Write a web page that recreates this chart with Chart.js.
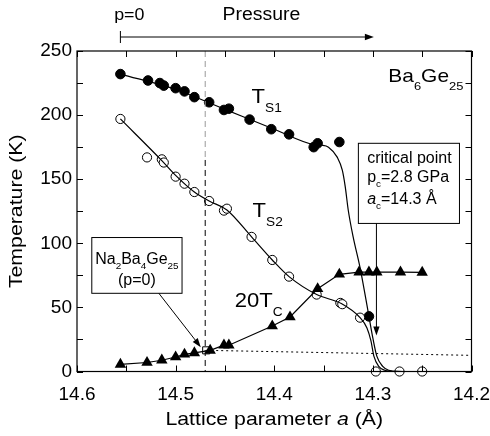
<!DOCTYPE html>
<html>
<head>
<meta charset="utf-8">
<script src="https://cdn.jsdelivr.net/npm/chart.js@4"></script>
<style>
  html, body { margin: 0; padding: 0; background: #fff; }
  #wrap { width: 490px; height: 436px; }
</style>
</head>
<body>
<div id="wrap"><canvas id="chart" width="490" height="436"></canvas></div>
<script>
// T_S1 (filled circles)
const ts1A = [14.556, 14.528, 14.516, 14.512, 14.500, 14.491, 14.481, 14.466, 14.451, 14.446, 14.425, 14.403, 14.385, 14.360, 14.356, 14.334, 14.304];
const ts1T = [232, 227, 225, 223, 221, 218.5, 214, 210, 204, 205, 196.5, 189, 185, 175, 178, 179, 43];
// T_S2 (open circles)
const ts2A = [14.556, 14.529, 14.514, 14.512, 14.500, 14.491, 14.481, 14.466, 14.451, 14.448, 14.423, 14.402, 14.385, 14.357, 14.333, 14.331, 14.313, 14.297, 14.273, 14.250];
const ts2T = [197, 167, 165.5, 163, 152, 146.5, 140, 133, 125.5, 127, 105, 87, 74, 60, 53.5, 52.5, 42, 0, 0, 0];
// 20 x Tc (triangles)
const tcA = [14.556, 14.529, 14.514, 14.500, 14.491, 14.481, 14.465, 14.451, 14.446, 14.402, 14.384, 14.356, 14.334, 14.314, 14.304, 14.296, 14.272, 14.250];
const tcT = [5.5, 7, 8.8, 11.3, 13.4, 14.5, 16.5, 20.5, 20.5, 35.5, 42.5, 64.5, 75.8, 77.5, 77.5, 77.5, 77.5, 77.3];
// guide curves through the data
const fit1A = [14.556, 14.50, 14.45, 14.40, 14.36, 14.352, 14.345, 14.336, 14.331, 14.328, 14.325, 14.320, 14.313, 14.307, 14.304, 14.300, 14.296, 14.290, 14.284, 14.270];
const fit1T = [232, 220, 204.5, 189, 177, 176.5, 175, 167, 157, 144, 126, 105, 81, 56, 43, 26, 12, 4, 1, 0];
const fit2A = [14.556, 14.514, 14.500, 14.481, 14.466, 14.448, 14.423, 14.402, 14.385, 14.357, 14.332, 14.313, 14.306, 14.302, 14.299, 14.294, 14.288, 14.280];
const fit2T = [197, 164.5, 153, 140, 133, 126, 105, 87, 74, 60, 53, 42, 34, 24, 12, 4, 1, 0];
// Na2Ba4Ge25 reference point and its dotted guide
const naA = [14.469];
const naT = [16.5];
const dotA = [14.469, 14.2];
const dotT = [16.5, 12.6];
// p = 0 line
const p0A = 14.470;

const xTicks = [14.6, 14.5, 14.4, 14.3, 14.2];
const xMinor = [14.55, 14.45, 14.35, 14.25];
const yTicks = [0, 50, 100, 150, 200, 250];
const yMinor = [25, 75, 125, 175, 225];

const pts = (a, t) => a.map((v, i) => ({ x: v, y: t[i] }));
const FONT = 'Liberation Sans, Arial, Helvetica, sans-serif';

// draws text made of parts, with subscripts and italic bits; sx stretches it sideways
function richText(ctx, parts, x, y, size, align, sx, subDy) {
  sx = sx || 1;
  subDy = subDy || 0.54;
  ctx.save();
  ctx.textBaseline = 'middle';
  ctx.fillStyle = '#000';
  let w = 0;
  parts.forEach(p => {
    const s = p.sub ? size * 0.62 : size;
    ctx.font = (p.it ? 'italic ' : '') + s + 'px ' + FONT;
    p.w = ctx.measureText(p.t).width * sx;
    p.s = s;
    w += p.w;
  });
  let cx = align === 'center' ? x - w / 2 : x;
  parts.forEach(p => {
    ctx.font = (p.it ? 'italic ' : '') + p.s + 'px ' + FONT;
    ctx.save();
    ctx.translate(cx, y + (p.sub ? size * subDy : 0));
    ctx.scale(sx, 1);
    ctx.fillText(p.t, 0, 0);
    ctx.restore();
    cx += p.w;
  });
  ctx.restore();
}

function arrow(ctx, x1, y1, x2, y2, head) {
  const ang = Math.atan2(y2 - y1, x2 - x1);
  ctx.save();
  ctx.strokeStyle = '#000';
  ctx.fillStyle = '#000';
  ctx.lineWidth = 1;
  ctx.beginPath();
  ctx.moveTo(x1, y1);
  ctx.lineTo(x2 - Math.cos(ang) * head * 0.8, y2 - Math.sin(ang) * head * 0.8);
  ctx.stroke();
  ctx.beginPath();
  ctx.moveTo(x2, y2);
  ctx.lineTo(x2 - head * Math.cos(ang) + head * 0.35 * Math.sin(ang), y2 - head * Math.sin(ang) - head * 0.35 * Math.cos(ang));
  ctx.lineTo(x2 - head * Math.cos(ang) - head * 0.35 * Math.sin(ang), y2 - head * Math.sin(ang) + head * 0.35 * Math.cos(ang));
  ctx.closePath();
  ctx.fill();
  ctx.restore();
}

const decor = {
  id: 'decor',
  afterDraw(chart) {
    const ctx = chart.ctx;
    const xs = chart.scales.x, ys = chart.scales.y;
    const ca = chart.chartArea;
    const X = v => xs.getPixelForValue(v);
    const Y = v => ys.getPixelForValue(v);
    ctx.save();
    // frame
    ctx.strokeStyle = '#000';
    ctx.lineWidth = 1.2;
    ctx.strokeRect(ca.left, ca.top, ca.right - ca.left, ca.bottom - ca.top);
    // inward ticks on all four sides
    ctx.lineWidth = 1;
    ctx.beginPath();
    xTicks.concat(xMinor).forEach(v => {
      const px = Math.round(X(v)) + 0.5;
      ctx.moveTo(px, ca.bottom); ctx.lineTo(px, ca.bottom - 6);
      ctx.moveTo(px, ca.top); ctx.lineTo(px, ca.top + 6);
    });
    yTicks.concat(yMinor).forEach(v => {
      const py = Math.round(Y(v)) + 0.5;
      ctx.moveTo(ca.left, py); ctx.lineTo(ca.left + 6, py);
      ctx.moveTo(ca.right, py); ctx.lineTo(ca.right - 6, py);
    });
    ctx.stroke();

    // axis titles
    richText(ctx, [{ t: 'Lattice parameter ' }, { t: 'a', it: true }, { t: ' (Å)' }], (ca.left + ca.right) / 2, 420, 19, 'center', 1.12);
    ctx.save();
    ctx.translate(17, (ca.top + ca.bottom) / 2);
    ctx.rotate(-Math.PI / 2);
    richText(ctx, [{ t: 'Temperature (K)' }], 0, 0, 19, 'center', 1.12);
    ctx.restore();

    // pressure arrow above the plot
    richText(ctx, [{ t: 'p=0' }], X(14.547), 15, 17, 'center', 1.05);
    richText(ctx, [{ t: 'Pressure' }], X(14.413), 15, 18, 'center', 1.08);
    ctx.beginPath();
    ctx.moveTo(X(14.556), 31); ctx.lineTo(X(14.556), 43);
    ctx.stroke();
    arrow(ctx, X(14.556), 37, X(14.299), 37, 9);

    // labels
    richText(ctx, [{ t: 'Ba' }, { t: '6', sub: true }, { t: 'Ge' }, { t: '25', sub: true }], X(14.2843), Y(230), 19, 'left', 1.1);
    richText(ctx, [{ t: 'T' }, { t: 'S1', sub: true }], X(14.423), Y(214), 21, 'left', 1.05);
    richText(ctx, [{ t: 'T' }, { t: 'S2', sub: true }], X(14.422), Y(125), 21, 'left', 1.05);
    richText(ctx, [{ t: '20T' }, { t: 'C', sub: true }], X(14.440), Y(55), 21, 'left', 1.05);

    // Na2Ba4Ge25 box
    const b1l = X(14.585), b1r = X(14.4935), b1t = Y(104.5), b1b = Y(61);
    ctx.fillStyle = '#fff';
    ctx.fillRect(b1l, b1t, b1r - b1l, b1b - b1t);
    ctx.strokeRect(b1l, b1t, b1r - b1l, b1b - b1t);
    richText(ctx, [{ t: 'Na' }, { t: '2', sub: true }, { t: 'Ba' }, { t: '4', sub: true }, { t: 'Ge' }, { t: '25', sub: true }], (b1l + b1r) / 2, Y(87), 16, 'center', 1, 0.4);
    richText(ctx, [{ t: '(p=0)' }], (b1l + b1r) / 2, Y(71), 16, 'center');
    arrow(ctx, X(14.517), b1b, X(14.4745), Y(19), 9);

    // critical point box
    const b2l = X(14.3147), b2r = X(14.2122), b2t = Y(178), b2b = Y(115.5);
    ctx.fillStyle = '#fff';
    ctx.fillRect(b2l, b2t, b2r - b2l, b2b - b2t);
    ctx.strokeRect(b2l, b2t, b2r - b2l, b2b - b2t);
    richText(ctx, [{ t: 'critical point' }], X(14.3058), Y(166), 16, 'left');
    richText(ctx, [{ t: 'p' }, { t: 'c', sub: true }, { t: '=2.8 GPa' }], X(14.3058), Y(151), 16, 'left', 1, 0.4);
    richText(ctx, [{ t: 'a', it: true }, { t: 'c', sub: true }, { t: '=14.3 Å' }], X(14.3058), Y(134), 16, 'left', 1, 0.4);
    arrow(ctx, X(14.2964), b2b, X(14.2964), Y(28), 9);
    ctx.restore();
  }
};

const line = (data, extra) => Object.assign({
  data: data, showLine: true, borderColor: '#000', borderWidth: 1.2,
  pointRadius: 0, pointHoverRadius: 0, fill: false, tension: 0
}, extra);

new Chart(document.getElementById('chart'), {
  type: 'scatter',
  data: {
    datasets: [
      line(pts([p0A, p0A], [250, 165]), { borderColor: '#999', borderWidth: 1, borderDash: [6, 4] }),
      line(pts([p0A, p0A], [165, 0]), { borderWidth: 1, borderDash: [6, 4] }),
      line(pts(dotA, dotT), { borderWidth: 1, borderDash: [2, 3] }),
      line(pts(fit1A, fit1T), { tension: 0.3, cubicInterpolationMode: 'monotone' }),
      line(pts(fit2A, fit2T), { tension: 0.3, cubicInterpolationMode: 'monotone' }),
      {
        data: pts(tcA, tcT), showLine: true, borderColor: '#000', borderWidth: 1.2,
        backgroundColor: '#000', pointStyle: 'triangle', pointRadius: 6.6, pointBorderWidth: 0
      },
      {
        data: pts(ts2A, ts2T), showLine: false, borderColor: '#000', borderWidth: 1,
        backgroundColor: '#fff', pointStyle: 'circle', pointRadius: 4.6
      },
      {
        data: pts(ts1A, ts1T), showLine: false, borderColor: '#000', borderWidth: 1,
        backgroundColor: '#000', pointStyle: 'circle', pointRadius: 4.8
      },
      {
        data: pts(naA, naT), showLine: false, borderColor: '#000', borderWidth: 1,
        backgroundColor: '#fff', pointStyle: 'rect', pointRadius: 5
      }
    ]
  },
  options: {
    responsive: false,
    animation: false,
    clip: false,
    layout: { padding: { top: 51, right: 18.5, left: 0, bottom: 0 } },
    plugins: { legend: { display: false }, tooltip: { enabled: false } },
    scales: {
      x: {
        type: 'linear', reverse: true, min: 14.2, max: 14.6,
        afterBuildTicks: s => { s.ticks = xTicks.map(v => ({ value: v })); },
        afterFit: s => { s.height = 64.5; s.paddingLeft = 0; s.paddingRight = 0; },
        grid: { drawOnChartArea: false, drawTicks: false },
        border: { display: false },
        ticks: { color: '#000', padding: 12, font: { size: 19, family: FONT }, callback: v => v.toFixed(1) }
      },
      y: {
        type: 'linear', min: 0, max: 250,
        afterBuildTicks: s => { s.ticks = yTicks.map(v => ({ value: v })); },
        afterFit: s => { s.width = 77; s.paddingTop = 0; s.paddingBottom = 0; },
        grid: { drawOnChartArea: false, drawTicks: false },
        border: { display: false },
        ticks: { color: '#000', padding: 5, font: { size: 19, family: FONT } }
      }
    }
  },
  plugins: [decor]
});
</script>
</body>
</html>
